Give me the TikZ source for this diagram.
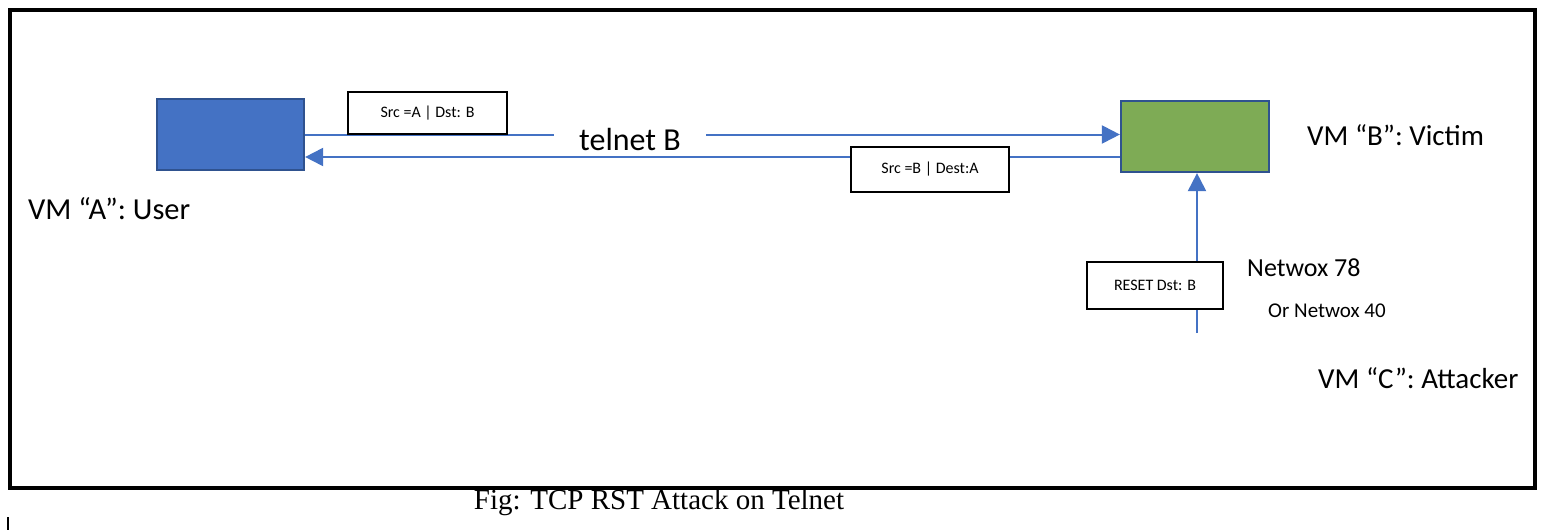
\documentclass[tikz,border=0pt]{standalone}
\usepackage{fontspec}
\setmainfont{Carlito}
\newfontfamily\capfont{Liberation Serif}
\usetikzlibrary{arrows.meta,calc}
\definecolor{boxblue}{HTML}{4472C4}
\definecolor{boxedge}{HTML}{2F528F}
\definecolor{boxgreen}{HTML}{7EAB55}
\begin{document}
\begin{tikzpicture}[x=1pt,y=-1pt,
  vm/.style={draw=boxedge,line width=2.2pt,minimum width=147pt,minimum height=71pt,inner sep=0pt},
  lbl/.style={draw=black,line width=1.8pt,fill=white,inner sep=0pt,font=\fontsize{16}{19}\selectfont},
  link/.style={draw=boxblue,line width=2pt,-{Triangle[length=18pt,width=18pt]}},
  txt/.style={inner sep=0pt,anchor=west,font=\fontsize{29}{34}\selectfont}]
\useasboundingbox (0,0) rectangle (1542,530);
\draw[line width=4pt] (10,10) rectangle (1535,488);
\draw[line width=1.2pt] (8,517) -- (8,530);
\node[vm,fill=boxblue] (A) at (230.5,134.5) {};
\node[vm,fill=boxgreen,minimum width=148pt] (B) at (1195,136.5) {};
\coordinate (b1) at ([yshift=-20.5pt]B.west);
\coordinate (c) at (1197,333);
\draw[link] (A.east) -- (A.east -| B.west);
\draw[link] (b1) -- (b1 -| A.east);
\draw[link] (c) -- (c |- B.south);
\node[fill=white,inner xsep=25pt,inner ysep=2pt,font=\fontsize{32}{36}\selectfont] (t) at (630,140) {telnet B};
\node[lbl,minimum width=159pt,minimum height=42pt] (l1) at (427.5,113) {Src =A | Dst: B};
\node[lbl,minimum width=158pt,minimum height=45pt] (l2) at (930,169.5) {Src =B | Dest:A};
\node[lbl,minimum width=136pt,minimum height=47pt] (l3) at (1155,285.5) {RESET Dst: B};
\node[txt,font=\fontsize{30.5}{34}\selectfont] (na) at (28,209) {VM “A”: User};
\node[txt] (nb) at (1307,135) {VM “B”: Victim};
\node[txt,font=\fontsize{26}{30}\selectfont] (n78) at (1247,268) {Netwox 78};
\node[txt,font=\fontsize{21}{24}\selectfont] (n40) at (1268,311) {Or Netwox 40};
\node[txt] (nc) at (1318,378) {VM “C”: Attacker};
\node[inner sep=0pt,font=\capfont\fontsize{29}{33}\selectfont] (cap) at (659,503) {Fig: TCP RST Attack on Telnet};
\end{tikzpicture}
\end{document}
